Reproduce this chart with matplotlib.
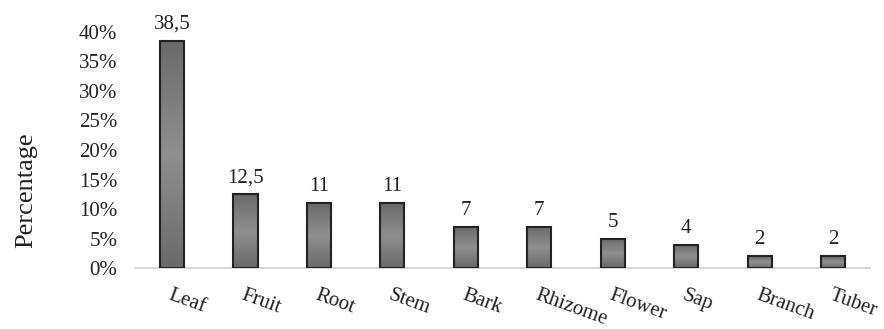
import numpy as np
import matplotlib.pyplot as plt
from matplotlib.colors import LinearSegmentedColormap
from matplotlib.ticker import PercentFormatter

plt.rcParams['font.family'] = ['Liberation Serif', 'DejaVu Serif']

# parts of the plant used and their share (%)
parts = ["Leaf", "Fruit", "Root", "Stem", "Bark", "Rhizome", "Flower", "Sap", "Branch", "Tuber"]
values = [38.5, 12.5, 11, 11, 7, 7, 5, 4, 2, 2]
labels = ["38,5", "12,5", "11", "11", "7", "7", "5", "4", "2", "2"]

fig = plt.figure(figsize=(8.84, 3.29), dpi=100)
ax = fig.add_axes([0.153, 0.185, 0.831, 0.718])

x = np.arange(len(parts))
frac = np.array(values) / 100
bars = ax.bar(x, frac, width=0.33, color="#7c7c7c", edgecolor="#222222", linewidth=1.5, zorder=3)

# vertical gradient: darker at ends, lighter in the middle
cmap = LinearSegmentedColormap.from_list("g", ["#6a6a6a", "#8f8f8f", "#6a6a6a"])
grad = np.linspace(0, 1, 100).reshape(-1, 1)
for b in bars:
    x0, y0 = b.get_x(), b.get_y()
    w, h = b.get_width(), b.get_height()
    im = ax.imshow(grad, cmap=cmap, aspect="auto", extent=[x0, x0 + w, y0, y0 + h],
                   origin="lower", zorder=3)
    im.set_clip_path(b)
    b.set_facecolor("none")
    b.set_zorder(4)

for xi, v, lab in zip(x, frac, labels):
    ax.annotate(lab, (xi, v), xytext=(0, 5), textcoords="offset points",
                ha="center", va="bottom", fontsize=15, color="#222222")

ax.set_xlim(-0.5, len(parts) - 0.5)
ax.set_ylim(0, 0.4)
ax.set_yticks(np.arange(0, 0.41, 0.05))
ax.yaxis.set_major_formatter(PercentFormatter(1.0, decimals=0))
ax.set_xticks(x)
ax.set_xticklabels(parts, rotation=-20, ha="left", va="top", rotation_mode="anchor")
ax.tick_params(axis="both", length=0, labelsize=15, colors="#222222")
ax.tick_params(axis="y", pad=13)
ax.tick_params(axis="x", pad=13)

for s in ["top", "right", "left"]:
    ax.spines[s].set_visible(False)
ax.spines["bottom"].set_color("#d0d0d0")
ax.spines["bottom"].set_linewidth(1.2)

ax.set_ylabel("Percentage", fontsize=19, color="#222222")
ax.yaxis.set_label_coords(-0.133, 0.33)

fig.savefig("out.png", dpi=100)
